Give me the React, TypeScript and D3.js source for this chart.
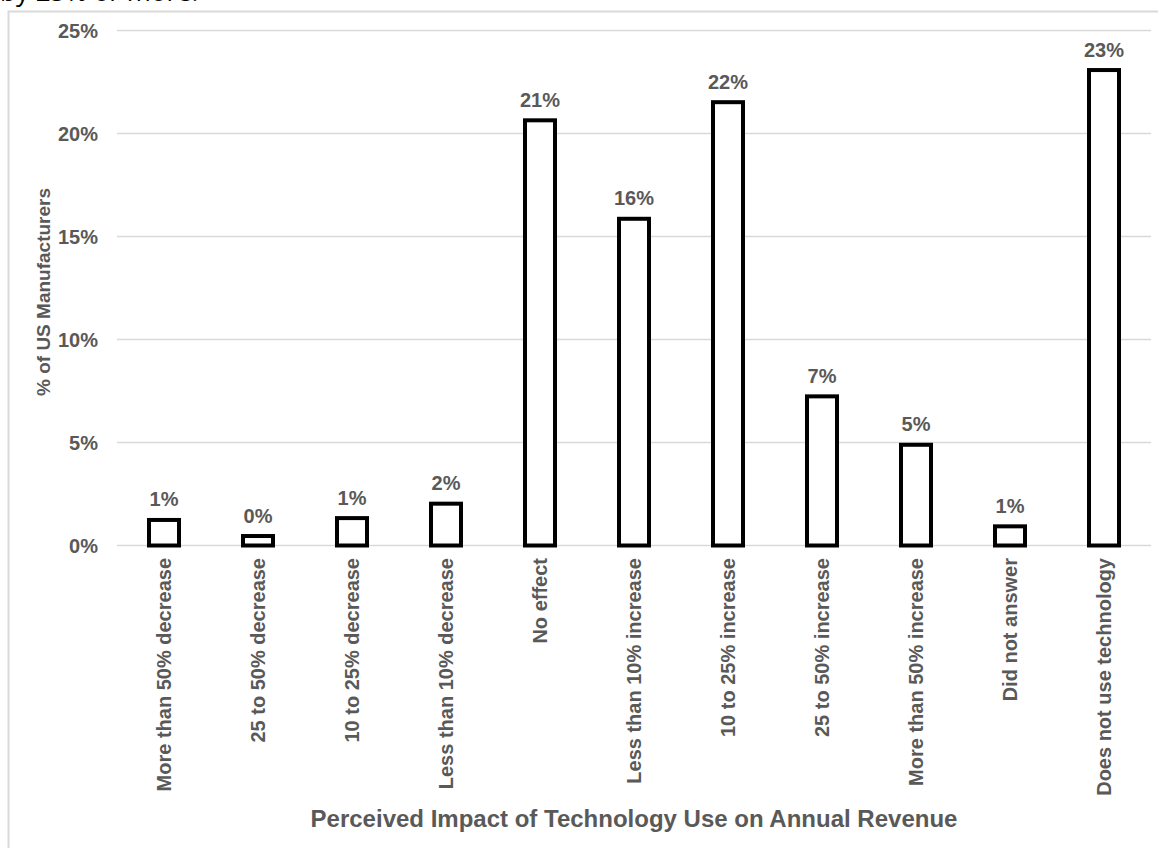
import React, { useRef, useEffect } from "react";
import * as d3 from "d3";

const categories = [
  "More than 50% decrease",
  "25 to 50% decrease",
  "10 to 25% decrease",
  "Less than 10% decrease",
  "No effect",
  "Less than 10% increase",
  "10 to 25% increase",
  "25 to 50% increase",
  "More than 50% increase",
  "Did not answer",
  "Does not use technology",
];
const values = [1.24, 0.46, 1.33, 2.03, 20.64, 15.86, 21.52, 7.24, 4.89, 0.93, 23.08];
const yTicks = [0, 5, 10, 15, 20, 25];

const App = () => {
  const svgRef = useRef<SVGSVGElement>(null);

  useEffect(() => {
    const svg = d3.select(svgRef.current);
    svg.selectAll("*").remove();

    const width = 1158;
    const height = 848;
    const left = 117;
    const right = 1151;
    const top = 30.5;
    const bottom = 545.5;
    const grey = "#595959";
    const font = "'Liberation Sans', Arial, sans-serif";

    // cut-off caption line above the chart
    svg
      .append("text")
      .attr("x", 0)
      .attr("y", 1)
      .attr("font-family", "'Open Sans', sans-serif")
      .attr("font-size", 26)
      .attr("fill", "#000")
      .text("by 25% or more.");

    // chart frame
    svg
      .append("rect")
      .attr("x", 8.5)
      .attr("y", 11.5)
      .attr("width", width)
      .attr("height", height)
      .attr("fill", "none")
      .attr("stroke", "#d9d9d9")
      .attr("stroke-width", 2);

    const x = d3.scaleBand().domain(categories).range([left, right]);
    const y = d3.scaleLinear().domain([0, 25]).range([bottom, top]);

    // gridlines
    svg
      .append("g")
      .selectAll("line")
      .data(yTicks)
      .enter()
      .append("line")
      .attr("x1", left)
      .attr("x2", right)
      .attr("y1", (d) => y(d))
      .attr("y2", (d) => y(d))
      .attr("stroke", "#d9d9d9")
      .attr("stroke-width", 1.5);

    // y tick labels
    svg
      .append("g")
      .selectAll("text")
      .data(yTicks)
      .enter()
      .append("text")
      .attr("x", 98)
      .attr("y", (d) => y(d))
      .attr("dy", "0.35em")
      .attr("text-anchor", "end")
      .attr("font-family", font)
      .attr("font-weight", "bold")
      .attr("font-size", 20)
      .attr("fill", grey)
      .text((d) => d + "%");

    // bars
    const barW = 30;
    svg
      .append("g")
      .selectAll("rect")
      .data(values)
      .enter()
      .append("rect")
      .attr("x", (d, i) => x(categories[i])! + x.bandwidth() / 2 - barW / 2)
      .attr("y", (d) => y(d))
      .attr("width", barW)
      .attr("height", (d) => bottom - y(d))
      .attr("fill", "#fff")
      .attr("stroke", "#000")
      .attr("stroke-width", 4);

    // value labels
    svg
      .append("g")
      .selectAll("text")
      .data(values)
      .enter()
      .append("text")
      .attr("x", (d, i) => x(categories[i])! + x.bandwidth() / 2)
      .attr("y", (d) => y(d) - 13.5)
      .attr("text-anchor", "middle")
      .attr("font-family", font)
      .attr("font-weight", "bold")
      .attr("font-size", 20)
      .attr("fill", grey)
      .text((d) => Math.round(d) + "%");

    // category labels
    svg
      .append("g")
      .selectAll("text")
      .data(categories)
      .enter()
      .append("text")
      .attr(
        "transform",
        (d) => `translate(${x(d)! + x.bandwidth() / 2 + 7},558) rotate(-90)`
      )
      .attr("text-anchor", "end")
      .attr("font-family", font)
      .attr("font-weight", "bold")
      .attr("font-size", 20)
      .attr("fill", grey)
      .text((d) => d);

    // axis titles
    svg
      .append("text")
      .attr("transform", `translate(50,${(top + bottom) / 2 + 4}) rotate(-90)`)
      .attr("text-anchor", "middle")
      .attr("font-family", font)
      .attr("font-weight", "bold")
      .attr("font-size", 19)
      .attr("fill", grey)
      .text("% of US Manufacturers");

    svg
      .append("text")
      .attr("x", 634)
      .attr("y", 827)
      .attr("text-anchor", "middle")
      .attr("font-family", font)
      .attr("font-weight", "bold")
      .attr("font-size", 24)
      .attr("fill", grey)
      .text("Perceived Impact of Technology Use on Annual Revenue");
  }, []);

  return (
    <svg
      ref={svgRef}
      width={1158}
      height={848}
      style={{ position: "absolute", left: 0, top: 0 }}
    />
  );
};

export default App;
